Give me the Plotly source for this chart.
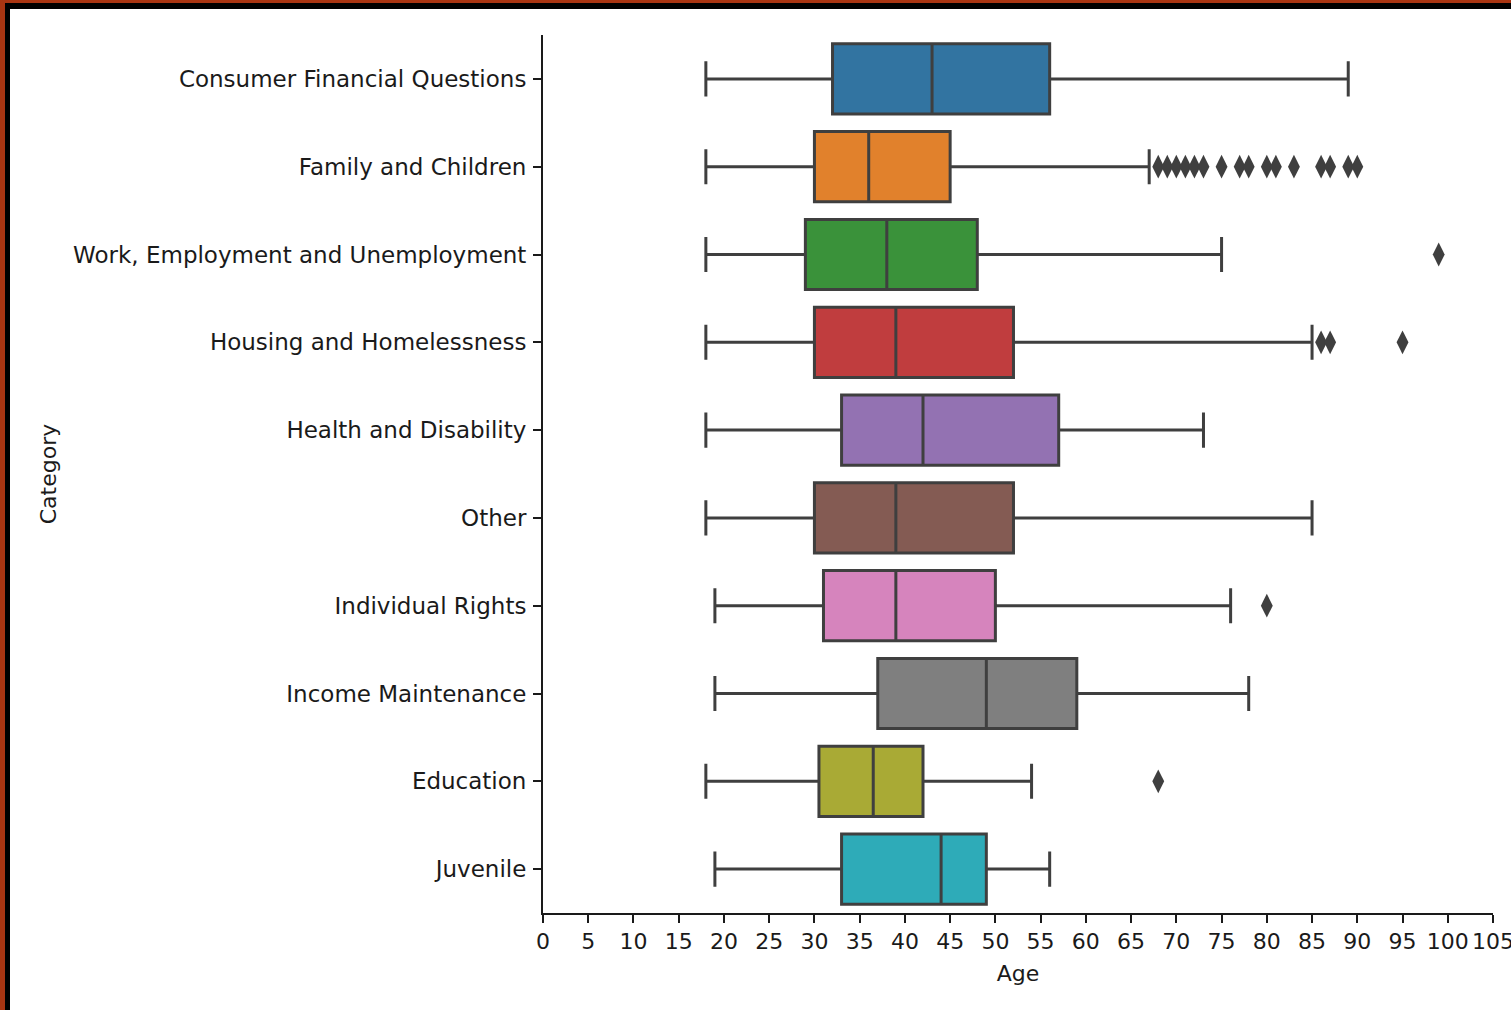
import plotly.graph_objects as go

categories = [
    "Consumer Financial Questions",
    "Family and Children",
    "Work, Employment and Unemployment",
    "Housing and Homelessness",
    "Health and Disability",
    "Other",
    "Individual Rights",
    "Income Maintenance",
    "Education",
    "Juvenile",
]
lower_whisker = [18, 18, 18, 18, 18, 18, 19, 19, 18, 19]
q1 = [32, 30, 29, 30, 33, 30, 31, 37, 30.5, 33]
median = [43, 36, 38, 39, 42, 39, 39, 49, 36.5, 44]
q3 = [56, 45, 48, 52, 57, 52, 50, 59, 42, 49]
upper_whisker = [89, 67, 75, 85, 73, 85, 76, 78, 54, 56]
outliers = {
    "Family and Children": [68, 69, 70, 71, 72, 73, 75, 77, 78, 80, 81, 83, 86, 87, 89, 90],
    "Work, Employment and Unemployment": [99],
    "Housing and Homelessness": [86, 87, 95],
    "Individual Rights": [80],
    "Education": [68],
}
colors = ["#3274a1", "#e1812c", "#3a923a", "#c03d3e", "#9372b2",
          "#845b53", "#d684bd", "#7f7f7f", "#a9aa35", "#2eabb8"]
x_ticks = list(range(0, 110, 5))

W, H = 1511, 1010
L, R, T, B = 543, 1493, 35, 913
FONT = "DejaVu Sans"
LINE = "#3f3f3f"
TXT = "#1a1a1a"

fig = go.Figure()
for i, c in enumerate(categories):
    fig.add_trace(go.Box(
        y=[c], orientation="h",
        q1=[q1[i]], median=[median[i]], q3=[q3[i]],
        lowerfence=[lower_whisker[i]], upperfence=[upper_whisker[i]],
        fillcolor=colors[i], line=dict(color=LINE, width=3),
        width=0.8, whiskerwidth=0.5, boxpoints=False,
        showlegend=False, hoverinfo="x",
    ))

ox, oy = [], []
for c, vals in outliers.items():
    ox += vals
    oy += [c] * len(vals)
fig.add_trace(go.Scatter(
    x=ox, y=oy, mode="markers",
    marker=dict(symbol="diamond-tall", size=17, color=LINE, line=dict(width=0)),
    showlegend=False,
))

def px_x(p):
    return (p - L) / (R - L)

def px_y(q):
    return (B - q) / (B - T)

shapes = []
def rect(x0, y0, x1, y1, color):
    shapes.append(dict(type="rect", xref="paper", yref="paper",
                       x0=px_x(x0), x1=px_x(x1), y0=px_y(y1), y1=px_y(y0),
                       fillcolor=color, line=dict(width=0), layer="above"))

rect(0, 0, 5, H, "#a93512")
rect(5, 3, 10, H, "#000000")
rect(0, 0, W, 3, "#a93512")
rect(5, 3, W, 9, "#000000")

fig.update_layout(
    width=W, height=H,
    margin=dict(l=L, r=W - R, t=T, b=H - B, pad=0, autoexpand=False),
    paper_bgcolor="white", plot_bgcolor="white",
    font=dict(family=FONT, size=22, color=TXT),
    shapes=shapes,
    xaxis=dict(
        range=[0, 105], tickvals=x_ticks, ticktext=[str(v) for v in x_ticks],
        tickangle=0, ticklabeloverflow="allow", tickfont=dict(size=22), automargin=False,
        showgrid=False, zeroline=False, showline=True, linecolor=TXT, linewidth=2,
        ticks="outside", ticklen=8, tickwidth=1.5, tickcolor=TXT,
        title=dict(text="Age", standoff=12, font=dict(size=22)),
    ),
    yaxis=dict(
        categoryorder="array", categoryarray=categories, autorange=False,
        range=[9.5, -0.5], tickfont=dict(size=23), ticklabelstandoff=2, automargin=False,
        showgrid=False, zeroline=False, showline=True, linecolor=TXT, linewidth=2,
        ticks="outside", ticklen=8, tickwidth=1.5, tickcolor=TXT,
        title=dict(text="Category", standoff=10, font=dict(size=22)),
    ),
)

fig.write_html("out.html")
